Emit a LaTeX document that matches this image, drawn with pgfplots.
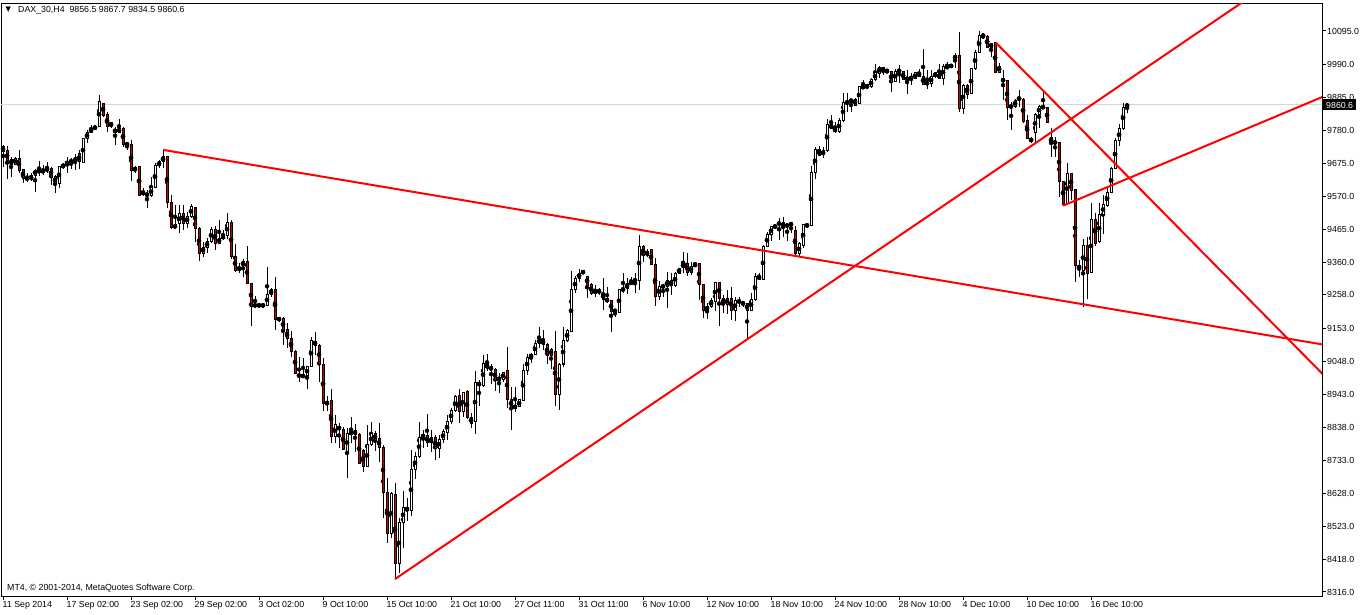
\documentclass[border=0pt]{standalone}
\usepackage{fontspec}
\setmainfont{Liberation Sans}
\newfontfamily\djv{DejaVu Sans}
\usepackage{pgfplots}
\usepackage{pgfplotstable}
\pgfplotsset{compat=1.18}
\definecolor{bear}{RGB}{200,0,0}
\definecolor{tl}{RGB}{255,0,0}
\definecolor{curline}{RGB}{214,214,214}
\newcommand\mt{\fontsize{8.8}{10}\selectfont}
\pgfplotstableread{
i o h l c
0 9730 9734 9663 9712
1 9715 9730 9625 9684
2 9686 9697 9631 9671
3 9671 9697 9670 9692
4 9692 9718 9644 9654
5 9656 9658 9614 9627
6 9629 9644 9617 9625
7 9623 9644 9618 9638
8 9638 9658 9586 9654
9 9654 9683 9635 9647
10 9647 9670 9637 9654
11 9652 9678 9644 9660
12 9660 9663 9607 9631
13 9633 9638 9582 9612
14 9612 9668 9596 9666
15 9663 9675 9658 9672
16 9673 9697 9646 9680
17 9680 9691 9657 9683
18 9679 9705 9654 9695
19 9705 9718 9656 9681
20 9679 9755 9678 9755
21 9755 9781 9739 9773
22 9773 9797 9771 9785
23 9786 9796 9783 9790
24 9792 9892 9790 9870
25 9866 9868 9823 9828
26 9830 9839 9776 9792
27 9799 9808 9786 9800
28 9784 9792 9734 9773
29 9773 9815 9771 9787
30 9787 9790 9726 9735
31 9737 9741 9718 9735
32 9734 9749 9620 9652
33 9652 9667 9644 9662
34 9664 9664 9572 9575
35 9577 9596 9572 9586
36 9575 9591 9533 9577
37 9573 9631 9570 9599
38 9599 9675 9596 9667
39 9667 9686 9660 9682
40 9681 9718 9660 9697
41 9697 9697 9535 9552
42 9552 9575 9466 9471
43 9471 9543 9469 9480
44 9483 9543 9453 9517
45 9517 9543 9464 9485
46 9485 9522 9469 9508
47 9508 9546 9501 9538
48 9536 9538 9427 9469
49 9469 9472 9367 9390
50 9390 9427 9377 9409
51 9409 9438 9390 9428
52 9428 9472 9422 9466
53 9466 9477 9401 9422
54 9422 9496 9420 9438
55 9437 9464 9432 9446
56 9446 9519 9435 9487
57 9487 9496 9371 9379
58 9379 9420 9332 9337
59 9337 9358 9327 9346
60 9351 9371 9314 9364
61 9364 9413 9293 9295
62 9295 9295 9160 9221
63 9225 9255 9223 9225
64 9225 9225 9225 9225
65 9225 9225 9225 9225
66 9225 9348 9223 9261
67 9261 9279 9253 9274
68 9274 9316 9147 9179
69 9181 9189 9173 9182
70 9184 9189 9099 9145
71 9147 9170 9089 9120
72 9120 9145 9062 9080
73 9080 9083 9006 9009
74 9006 9060 8983 8999
75 9003 9057 8996 8999
76 9002 9033 8959 9031
77 9031 9126 9028 9115
78 9112 9142 9068 9099
79 9099 9101 8981 9039
80 9039 9057 8891 8914
81 8914 8938 8891 8916
82 8922 8960 8790 8809
83 8809 8877 8787 8846
84 8842 8851 8774 8830
85 8830 8840 8766 8768
86 8761 8835 8679 8819
87 8819 8872 8790 8821
88 8827 8849 8761 8817
89 8817 8821 8722 8724
90 8766 8768 8698 8713
91 8713 8846 8711 8785
92 8785 8856 8779 8819
93 8819 8827 8764 8798
94 8803 8851 8729 8775
95 8775 8782 8552 8632
96 8632 8677 8472 8502
97 8502 8632 8486 8629
98 8624 8661 8357 8407
99 8407 8550 8377 8537
100 8537 8636 8455 8585
101 8585 8613 8542 8573
102 8576 8766 8558 8705
103 8705 8761 8674 8747
104 8747 8854 8740 8807
105 8807 8830 8774 8814
106 8811 8880 8775 8790
107 8790 8830 8760 8805
108 8805 8815 8735 8770
109 8770 8815 8740 8800
110 8800 8832 8790 8824
111 8821 8877 8798 8856
112 8856 8898 8849 8893
113 8891 8941 8888 8935
114 8938 8959 8853 8888
115 8888 8951 8870 8948
116 8951 8955 8864 8870
117 8870 8883 8837 8851
118 8856 9017 8816 8981
119 8981 8988 8907 8970
120 8970 9068 8967 9041
121 9041 9071 9018 9025
122 9030 9039 8975 9020
123 9022 9025 8955 8986
124 8993 9009 8948 8991
125 8991 9015 8983 9013
126 9017 9092 8901 8927
127 8927 8967 8830 8901
128 8904 8967 8888 8902
129 8904 8925 8902 8925
130 8923 9039 8922 9020
131 9018 9071 9004 9060
132 9059 9075 9043 9070
133 9068 9115 9068 9105
134 9105 9157 9089 9117
135 9117 9147 9083 9100
136 9101 9107 9039 9065
137 9065 9089 9024 9086
138 9080 9144 8907 8941
139 8941 9041 8893 9039
140 9039 9157 9031 9115
141 9115 9150 9110 9144
142 9142 9334 9140 9274
143 9274 9318 9263 9311
144 9311 9339 9300 9327
145 9327 9337 9324 9334
146 9318 9318 9247 9288
147 9290 9297 9258 9263
148 9263 9290 9253 9274
149 9274 9279 9258 9266
150 9263 9311 9210 9244
151 9245 9284 9231 9238
152 9239 9242 9142 9205
153 9208 9210 9189 9207
154 9203 9276 9202 9276
155 9272 9327 9265 9279
156 9277 9311 9261 9295
157 9295 9314 9288 9298
158 9301 9327 9263 9308
159 9305 9448 9274 9413
160 9413 9416 9361 9383
161 9383 9403 9379 9397
162 9401 9403 9353 9355
163 9356 9374 9223 9253
164 9253 9303 9242 9284
165 9284 9288 9253 9286
166 9284 9332 9216 9305
167 9305 9327 9258 9288
168 9288 9332 9284 9327
169 9327 9342 9327 9342
170 9345 9393 9327 9358
171 9358 9390 9318 9330
172 9329 9364 9321 9348
173 9348 9364 9348 9358
174 9358 9358 9242 9290
175 9290 9290 9185 9208
176 9208 9231 9181 9223
177 9223 9247 9216 9240
178 9237 9300 9207 9297
179 9297 9300 9161 9247
180 9247 9258 9202 9228
181 9228 9274 9198 9247
182 9247 9284 9179 9210
183 9208 9253 9176 9240
184 9237 9253 9221 9238
185 9231 9240 9221 9232
186 9231 9231 9117 9210
187 9210 9263 9208 9244
188 9244 9329 9240 9318
189 9318 9327 9305 9308
190 9308 9416 9305 9411
191 9411 9459 9409 9451
192 9450 9477 9430 9474
193 9474 9480 9472 9475
194 9481 9501 9432 9488
195 9488 9504 9443 9474
196 9474 9487 9430 9482
197 9482 9487 9453 9483
198 9464 9477 9385 9390
199 9388 9427 9383 9420
200 9416 9480 9406 9480
201 9478 9485 9472 9479
202 9478 9667 9477 9647
203 9647 9728 9625 9720
204 9720 9730 9699 9700
205 9702 9728 9691 9715
206 9716 9815 9712 9800
207 9800 9829 9783 9785
208 9787 9808 9771 9776
209 9776 9818 9773 9810
210 9810 9900 9806 9868
211 9868 9897 9837 9869
212 9869 9884 9837 9879
213 9879 9884 9860 9860
214 9866 9918 9866 9918
215 9916 9940 9913 9918
216 9916 9926 9911 9924
217 9918 9945 9913 9942
218 9940 9990 9938 9963
219 9961 9985 9947 9980
220 9980 9982 9955 9968
221 9968 9973 9961 9969
222 9968 9968 9903 9932
223 9935 9973 9932 9968
224 9968 9987 9929 9970
225 9966 9968 9940 9942
226 9943 9971 9895 9944
227 9945 9961 9924 9946
228 9943 9966 9942 9963
229 9963 9973 9948 9950
230 9950 10038 9924 9926
231 9929 9971 9911 9930
232 9929 9971 9918 9950
233 9950 9966 9945 9963
234 9961 9992 9942 9945
235 9945 9990 9924 9984
236 9977 9996 9974 9984
237 9979 9992 9977 9989
238 10008 10024 9979 10016
239 10016 10091 9837 9850
240 9850 9926 9831 9922
241 9922 9926 9881 9895
242 9897 9977 9894 9975
243 9975 10035 9971 10027
244 10027 10095 10024 10082
245 10080 10085 10070 10081
246 10079 10082 10040 10043
247 10043 10056 10014 10056
248 10058 10058 9961 9963
249 9963 9993 9961 9984
250 9940 9971 9876 9938
251 9938 9940 9813 9853
252 9855 9871 9781 9856
253 9855 9878 9850 9876
254 9879 9908 9855 9882
255 9879 9882 9802 9808
256 9811 9829 9752 9755
257 9755 9760 9739 9744
258 9773 9834 9741 9831
259 9831 9860 9786 9857
260 9857 9903 9848 9850
261 9852 9855 9802 9805
262 9757 9786 9694 9741
263 9741 9758 9694 9742
264 9742 9742 9570 9617
265 9619 9619 9543 9546
266 9549 9675 9546 9642
267 9642 9644 9559 9589
268 9591 9593 9298 9351
269 9353 9369 9314 9339
270 9337 9434 9219 9416
271 9416 9443 9244 9327
272 9329 9549 9327 9498
273 9498 9517 9413 9422
274 9427 9549 9422 9512
275 9512 9575 9451 9546
276 9543 9596 9538 9583
277 9582 9665 9580 9660
278 9660 9755 9656 9749
279 9747 9800 9731 9786
280 9786 9866 9781 9853
281 9856.5 9867.7 9834.5 9860.6
}\candles
\begin{document}
\begin{tikzpicture}
\useasboundingbox (0,0) rectangle (1362pt,614pt);
\begin{axis}[
  at={(1pt,18pt)}, anchor=south west,
  scale only axis, width=1321pt, height=592pt,
  xmin=-0.5, xmax=329.75, ymin=8303.3, ymax=10180.6,
  axis line style={black, line width=1pt},
  tick align=outside, major tick length=4pt,
  tick style={black, line width=1pt},
  xtick pos=bottom, ytick pos=right, yticklabel pos=right,
  xtick={0,16,...,272},
  xticklabels={11 Sep 2014,17 Sep 02:00,23 Sep 02:00,29 Sep 02:00,3 Oct 02:00,9 Oct 10:00,15 Oct 10:00,21 Oct 10:00,27 Oct 11:00,31 Oct 11:00,6 Nov 10:00,12 Nov 10:00,18 Nov 10:00,24 Nov 10:00,28 Nov 10:00,4 Dec 10:00,10 Dec 10:00,16 Dec 10:00},
  ytick={8316,8418,8523,8628,8733,8838,8943,9048,9153,9258,9360,9465,9570,9675,9780,9885,9990,10095},
  yticklabels={8316.0,8418.0,8523.0,8628.0,8733.0,8838.0,8943.0,9048.0,9153.0,9258.0,9360.0,9465.0,9570.0,9675.0,9780.0,9885.0,9990.0,10095.0},
  xticklabel style={font=\mt, anchor=north west, inner sep=0pt, xshift=-0.5pt, yshift=-1pt},
  yticklabel style={font=\mt, anchor=west, inner sep=0pt, xshift=1pt},
  clip mode=individual,
]
\addplot[curline, line width=1pt, forget plot] coordinates {(-1,9860.6) (331,9860.6)};
% wicks
\addplot[only marks, mark=none, forget plot,
  error bars/.cd, y dir=both, y explicit, error mark=none,
  error bar style={black, line width=1pt}]
  table[x=i, y expr={(\thisrow{h}+\thisrow{l})/2}, y error expr={(\thisrow{h}-\thisrow{l})/2}] {\candles};
% body outline
\addplot[only marks, mark=none, forget plot,
  error bars/.cd, y dir=both, y explicit, error mark=none,
  error bar style={black, line width=3pt}]
  table[x=i, y expr={(\thisrow{o}+\thisrow{c})/2}, y error expr={abs(\thisrow{o}-\thisrow{c})/2+1.6}] {\candles};
% bear fill
\addplot[only marks, mark=none, forget plot,
  error bars/.cd, y dir=both, y explicit, error mark=none,
  error bar style={bear, line width=1pt}]
  table[x=i, y expr={(\thisrow{o}+\thisrow{c})/2}, y error expr={ifthenelse(\thisrow{c}<\thisrow{o}, max(abs(\thisrow{o}-\thisrow{c})/2-1.6,0), 0)}] {\candles};
% bull fill
\addplot[only marks, mark=none, forget plot,
  error bars/.cd, y dir=both, y explicit, error mark=none,
  error bar style={white, line width=1pt}]
  table[x=i, y expr={(\thisrow{o}+\thisrow{c})/2}, y error expr={ifthenelse(\thisrow{c}>\thisrow{o}, max(abs(\thisrow{o}-\thisrow{c})/2-1.6,0), 0)}] {\candles};
% trend lines
\addplot[tl, line width=2pt, forget plot] coordinates {(40,9718) (331,9098.6)};
\addplot[tl, line width=2pt, forget plot] coordinates {(98,8357) (320,10274)};
\addplot[tl, line width=2pt, forget plot] coordinates {(248.2,10058) (331,8993)};
\addplot[tl, line width=2pt, forget plot] coordinates {(265,9541) (331,9892)};
\end{axis}
\node[anchor=west, inner sep=0pt] at (5.5pt,604pt) {\djv\fontsize{7}{7}\selectfont ▼};
\node[anchor=west, inner sep=0pt, font=\mt] at (18pt,604pt) {DAX\_30,H4\ \ 9856.5 9867.7 9834.5 9860.6};
\node[anchor=west, inner sep=0pt, font=\mt] at (7pt,26pt) {MT4, © 2001-2014, MetaQuotes Software Corp.};
\node[anchor=west, fill=black, text=white, font=\mt, inner xsep=3pt, inner ysep=0pt, minimum height=11pt] at (1323pt,509pt) {9860.6};
\end{tikzpicture}
\end{document}
